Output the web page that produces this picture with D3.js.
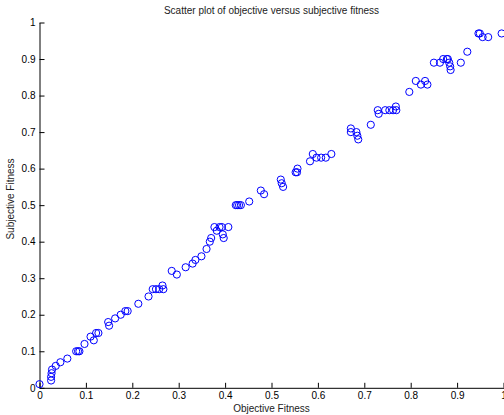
<!DOCTYPE html>
<html><head><meta charset="utf-8">
<script src="https://cdn.jsdelivr.net/npm/d3@7"></script>
<style>body{margin:0;background:#fff}svg{display:block}text{font-family:"Liberation Sans",Arial,Helvetica,sans-serif}</style>
</head><body>
<svg id="c" width="504" height="415"></svg>
<script>
const objective = [0.0,0.025,0.025,0.026,0.027,0.035,0.045,0.06,0.079,0.083,0.086,0.097,0.11,0.117,0.122,0.127,0.148,0.15,0.163,0.175,0.185,0.19,0.213,0.235,0.244,0.251,0.258,0.265,0.267,0.285,0.296,0.315,0.33,0.336,0.349,0.36,0.367,0.37,0.377,0.382,0.388,0.393,0.395,0.397,0.407,0.423,0.426,0.43,0.434,0.452,0.477,0.484,0.52,0.522,0.525,0.552,0.556,0.555,0.583,0.589,0.597,0.607,0.617,0.629,0.671,0.671,0.683,0.685,0.687,0.714,0.729,0.731,0.745,0.754,0.762,0.768,0.769,0.797,0.811,0.822,0.831,0.836,0.85,0.863,0.87,0.878,0.88,0.883,0.885,0.886,0.908,0.922,0.946,0.949,0.955,0.967,0.996];
const subjective = [0.01,0.02,0.03,0.04,0.05,0.06,0.07,0.08,0.10,0.10,0.10,0.12,0.14,0.13,0.15,0.15,0.18,0.17,0.19,0.20,0.21,0.21,0.23,0.25,0.27,0.27,0.27,0.28,0.27,0.32,0.31,0.33,0.34,0.35,0.36,0.38,0.40,0.41,0.44,0.43,0.44,0.44,0.42,0.41,0.44,0.50,0.50,0.50,0.50,0.51,0.54,0.53,0.57,0.56,0.55,0.59,0.60,0.59,0.62,0.64,0.63,0.63,0.63,0.64,0.71,0.70,0.70,0.69,0.68,0.72,0.76,0.75,0.76,0.76,0.76,0.77,0.76,0.81,0.84,0.83,0.84,0.83,0.89,0.89,0.90,0.90,0.90,0.89,0.88,0.87,0.89,0.92,0.97,0.97,0.96,0.96,0.97];
const xTicks = [0,0.1,0.2,0.3,0.4,0.5,0.6,0.7,0.8,0.9,1];
const yTicks = [0,0.1,0.2,0.3,0.4,0.5,0.6,0.7,0.8,0.9,1];
const title = "Scatter plot of objective versus subjective fitness";
const xLabel = "Objective Fitness";
const yLabel = "Subjective Fitness";

(function(){
const svg = d3.select("#c");
const mL = 39.5, mR = 503.5, mT = 22.5, mB = 387.8;
const x = d3.scaleLinear().domain([0,1]).range([mL,mR]);
const y = d3.scaleLinear().domain([0,1]).range([mB,mT]);

const fmt = d => d === 0 ? "0" : d === 1 ? "1" : d3.format(".1f")(d);

const gx = svg.append("g").attr("transform",`translate(0,${mB})`)
  .call(d3.axisBottom(x).tickValues(xTicks).tickFormat(fmt).tickSizeInner(-5).tickSizeOuter(0).tickPadding(4));
const gy = svg.append("g").attr("transform",`translate(${mL},0)`)
  .call(d3.axisLeft(y).tickValues(yTicks).tickFormat(fmt).tickSizeInner(-5).tickSizeOuter(0).tickPadding(4));
[gx,gy].forEach(g=>{
  g.selectAll("path.domain").attr("stroke","#000").attr("stroke-width",1);
  g.selectAll(".tick line").attr("stroke","#000");
  g.selectAll("text").attr("font-size",10).attr("fill","#000").attr("font-family","Liberation Sans, Arial, sans-serif");
});

svg.append("g").selectAll("circle").data(objective.map((v,i)=>[v,subjective[i]]))
  .join("circle")
  .attr("cx",d=>x(d[0])).attr("cy",d=>y(d[1])).attr("r",3.6)
  .attr("fill","none").attr("stroke","#0000ff").attr("stroke-width",1);

svg.append("text").attr("x",(mL+mR)/2).attr("y",14).attr("text-anchor","middle")
  .attr("font-size",10).attr("fill","#222").text(title);
svg.append("text").attr("x",(mL+mR)/2).attr("y",412).attr("text-anchor","middle")
  .attr("font-size",10).attr("fill","#222").text(xLabel);
svg.append("text").attr("transform",`translate(14,199) rotate(-90)`).attr("text-anchor","middle")
  .attr("font-size",10).attr("fill","#222").text(yLabel);
})();
</script>
</body></html>
